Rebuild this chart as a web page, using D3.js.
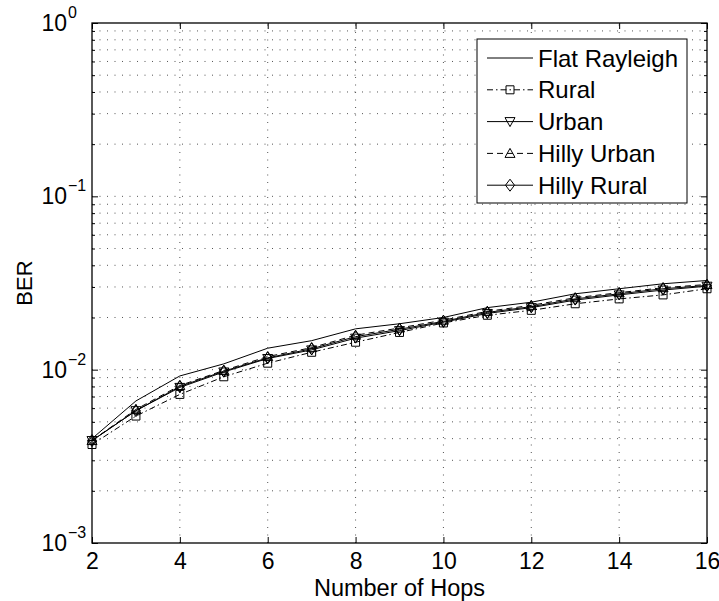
<!DOCTYPE html>
<html>
<head>
<meta charset="utf-8">
<script src="https://cdn.jsdelivr.net/npm/d3@7"></script>
<style>
  html, body { margin: 0; padding: 0; background: #fff; }
  svg { display: block; font-family: "Liberation Sans", Arial, sans-serif; }
</style>
</head>
<body>
<svg id="chart" width="719" height="601"></svg>
<script>
// Number of hops on the x axis
const hops = [2, 3, 4, 5, 6, 7, 8, 9, 10, 11, 12, 13, 14, 15, 16];

// BER per channel model
const flatRayleigh = [0.0040, 0.0066, 0.0092, 0.0108, 0.0133, 0.0147, 0.0172, 0.0184, 0.0200, 0.0228, 0.0245, 0.0274, 0.0293, 0.0313, 0.0327];
const rural        = [0.0037, 0.0054, 0.0072, 0.0091, 0.0109, 0.0126, 0.0144, 0.0164, 0.0186, 0.0206, 0.0220, 0.0240, 0.0256, 0.0270, 0.0293];
const urban        = [0.0039, 0.0058, 0.0079, 0.0097, 0.0116, 0.0130, 0.0152, 0.0168, 0.0188, 0.0211, 0.0228, 0.0252, 0.0270, 0.0288, 0.0303];
const hillyUrban   = [0.0039, 0.0059, 0.0081, 0.0099, 0.0119, 0.0134, 0.0158, 0.0174, 0.0193, 0.0217, 0.0235, 0.0260, 0.0278, 0.0297, 0.0310];
const hillyRural   = [0.0039, 0.0058, 0.0080, 0.0098, 0.0117, 0.0132, 0.0155, 0.0171, 0.0190, 0.0214, 0.0231, 0.0256, 0.0274, 0.0293, 0.0306];

const seriesNames = ["Flat Rayleigh", "Rural", "Urban", "Hilly Urban", "Hilly Rural"];
const seriesValues = [flatRayleigh, rural, urban, hillyUrban, hillyRural];

const xTicks = [2, 4, 6, 8, 10, 12, 14, 16];
const yDecades = [1e-3, 1e-2, 1e-1, 1];
const yExponents = ["\u22123", "\u22122", "\u22121", "0"];

// Line style and marker for each series
const styles = [
  { dash: null,        marker: null },
  { dash: "6,3,1.5,3", marker: "square" },
  { dash: null,        marker: "down" },
  { dash: "6,4",       marker: "up" },
  { dash: null,        marker: "diamond" }
];

const svg = d3.select("#chart");
const pL = 92, pR = 707, pT = 23, pB = 543;

const x = d3.scaleLinear().domain([2, 16]).range([pL, pR]);
const y = d3.scaleLog().domain([1e-3, 1]).range([pB, pT]);

// Minor decade positions for the log axis
const yMinor = [];
yDecades.slice(0, -1).forEach(d => { for (let k = 2; k <= 9; k++) yMinor.push(d * k); });

// Dotted grid
const grid = svg.append("g").attr("stroke", "#555").attr("stroke-width", 1)
  .attr("stroke-dasharray", "1,6.5").attr("fill", "none");
xTicks.slice(1, -1).forEach(t => {
  grid.append("line").attr("x1", x(t)).attr("x2", x(t)).attr("y1", pB).attr("y2", pT);
});
yDecades.slice(1, -1).concat(yMinor).forEach(t => {
  grid.append("line").attr("x1", pL).attr("x2", pR).attr("y1", y(t)).attr("y2", y(t));
});

// Axes built with d3 axis generators, ticks pointing inward
const gx = svg.append("g").attr("transform", `translate(0,${pB})`)
  .call(d3.axisBottom(x).tickValues(xTicks).tickSizeInner(-6).tickSizeOuter(0).tickPadding(10).tickFormat(d3.format("d")));
const gxTop = svg.append("g").attr("transform", `translate(0,${pT})`)
  .call(d3.axisTop(x).tickValues(xTicks).tickSizeInner(-6).tickSizeOuter(0).tickFormat(""));
const gy = svg.append("g").attr("transform", `translate(${pL},0)`)
  .call(d3.axisLeft(y).tickValues(yDecades).tickSizeInner(-6).tickSizeOuter(0).tickFormat(""));
const gyMinor = svg.append("g").attr("transform", `translate(${pL},0)`)
  .call(d3.axisLeft(y).tickValues(yMinor).tickSizeInner(-3).tickSizeOuter(0).tickFormat(""));
const gyR = svg.append("g").attr("transform", `translate(${pR},0)`)
  .call(d3.axisRight(y).tickValues(yDecades).tickSizeInner(-6).tickSizeOuter(0).tickFormat(""));
const gyRMinor = svg.append("g").attr("transform", `translate(${pR},0)`)
  .call(d3.axisRight(y).tickValues(yMinor).tickSizeInner(-3).tickSizeOuter(0).tickFormat(""));

[gx, gxTop, gy, gyMinor, gyR, gyRMinor].forEach(g => {
  g.select(".domain").remove();
  g.selectAll(".tick line").attr("stroke", "#000").attr("stroke-width", 1);
});
gx.selectAll(".tick text").attr("font-size", 23).attr("fill", "#000")
  .attr("font-family", "Liberation Sans, Arial, sans-serif");

// Frame
svg.append("rect").attr("x", pL).attr("y", pT).attr("width", pR - pL).attr("height", pB - pT)
  .attr("fill", "none").attr("stroke", "#000").attr("stroke-width", 1.3);

// Y tick labels as 10 with superscript exponent
yDecades.forEach((d, i) => {
  svg.append("text").attr("x", 67).attr("y", y(d) + 8)
    .attr("text-anchor", "end").attr("font-size", 23).attr("fill", "#000").text("10");
  svg.append("text").attr("x", 68).attr("y", y(d) - 5)
    .attr("font-size", 16).attr("fill", "#000").text(yExponents[i]);
});

// Axis titles
svg.append("text").attr("x", (pL + pR) / 2).attr("y", 596).attr("text-anchor", "middle")
  .attr("font-size", 23.5).attr("fill", "#000").text("Number of Hops");
svg.append("text").attr("transform", `translate(32,${(pT + pB) / 2}) rotate(-90)`)
  .attr("text-anchor", "middle").attr("font-size", 22).attr("fill", "#000").text("BER");

// Marker drawing
function drawMarker(g, type, cx, cy) {
  if (!type) return;
  let p;
  if (type === "square") p = `M${cx-4},${cy-4}h8v8h-8z`;
  else if (type === "down") p = `M${cx-5},${cy-4}L${cx+5},${cy-4}L${cx},${cy+5}z`;
  else if (type === "up") p = `M${cx-5},${cy+4}L${cx+5},${cy+4}L${cx},${cy-5}z`;
  else if (type === "diamond") p = `M${cx},${cy-6}L${cx+4.5},${cy}L${cx},${cy+6}L${cx-4.5},${cy}z`;
  g.append("path").attr("d", p).attr("fill", "none").attr("stroke", "#000").attr("stroke-width", 1);
}

// Series lines and markers
const line = d3.line().x((d, i) => x(hops[i])).y(d => y(d));
const plot = svg.append("g");
seriesValues.forEach((vals, s) => {
  plot.append("path").attr("d", line(vals)).attr("fill", "none").attr("stroke", "#000")
    .attr("stroke-width", 1).attr("stroke-dasharray", styles[s].dash);
  vals.forEach((v, i) => drawMarker(plot, styles[s].marker, x(hops[i]), y(v)));
});

// Legend
const lg = svg.append("g");
lg.append("rect").attr("x", 477).attr("y", 39).attr("width", 210).attr("height", 164)
  .attr("fill", "#fff").attr("stroke", "#000").attr("stroke-width", 1);
seriesNames.forEach((name, i) => {
  const ry = 58 + i * 31.8;
  lg.append("line").attr("x1", 487).attr("x2", 533).attr("y1", ry).attr("y2", ry)
    .attr("stroke", "#000").attr("stroke-width", 1).attr("stroke-dasharray", styles[i].dash);
  drawMarker(lg, styles[i].marker, 510, ry);
  lg.append("text").attr("x", 538).attr("y", ry + 8.5).attr("font-size", 24).attr("fill", "#000").text(name);
});
</script>
</body>
</html>
